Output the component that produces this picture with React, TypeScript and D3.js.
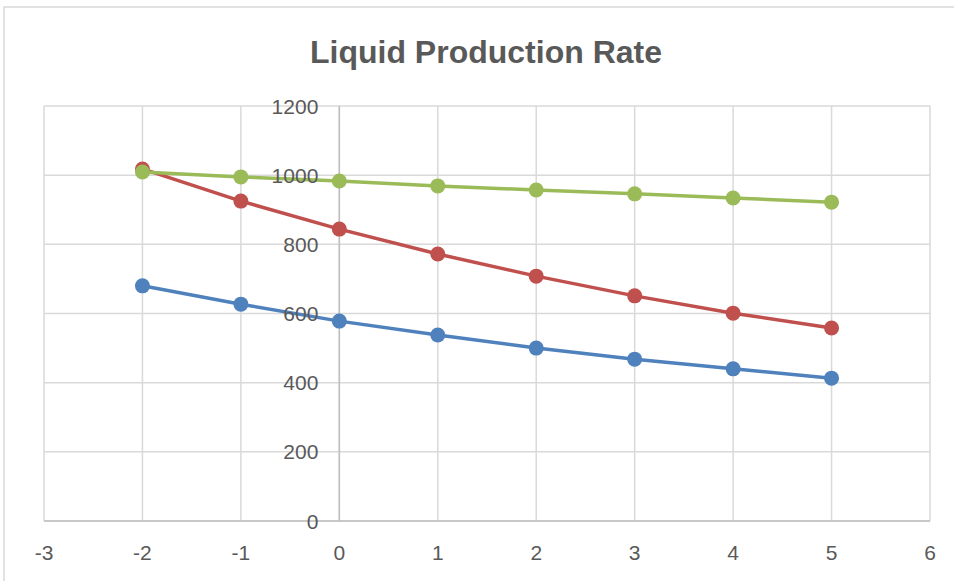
import React from "react";
import * as d3 from "d3";

// x values shared by all three series
const xValues = [-2, -1, 0, 1, 2, 3, 4, 5];
const blueSeries = [680, 627, 578, 538, 500, 468, 440, 413];
const redSeries = [1018, 925, 844, 772, 708, 651, 601, 558];
const greenSeries = [1009, 995, 983, 969, 957, 946, 934, 922];
const xTicks = [-3, -2, -1, 0, 1, 2, 3, 4, 5, 6];
const yTicks = [0, 200, 400, 600, 800, 1000, 1200];

const series = [
    { name: "blue", color: "#4F81BD", values: blueSeries },
    { name: "red", color: "#C0504D", values: redSeries },
    { name: "green", color: "#9BBB59", values: greenSeries },
];

var W = 954, H = 581;
var plot = { left: 44, right: 930, top: 106, bottom: 521 };
var font = "'Liberation Sans', Arial, sans-serif";

function App() {
    const x = d3.scaleLinear().domain([-3, 6]).range([plot.left, plot.right]);
    const y = d3.scaleLinear().domain([0, 1200]).range([plot.bottom, plot.top]);
    const line = d3.line<number>()
        .x((d, i) => x(xValues[i]))
        .y(d => y(d));

    return (
        <svg width={W} height={H} style={{ position: "absolute", left: 0, top: 0, background: "#fff" }}>
            {/* chart frame */}
            <rect x={4} y={7} width={980} height={600} fill="#fff" stroke="#d9d9d9" strokeWidth={1.5} />
            <text x={486} y={63} textAnchor="middle" fontFamily={font} fontWeight="bold"
                fontSize={32} fill="#595959">Liquid Production Rate</text>

            {/* gridlines */}
            {yTicks.map(t => (
                <line key={"gy" + t} x1={plot.left} x2={plot.right} y1={y(t)} y2={y(t)}
                    stroke="#d9d9d9" strokeWidth={1.5} />
            ))}
            {xTicks.map(t => (
                <line key={"gx" + t} x1={x(t)} x2={x(t)} y1={plot.top} y2={plot.bottom}
                    stroke="#d9d9d9" strokeWidth={1.5} />
            ))}
            {/* axes */}
            <line x1={plot.left} x2={plot.right} y1={y(0)} y2={y(0)} stroke="#bfbfbf" strokeWidth={1.5} />
            <line x1={x(0)} x2={x(0)} y1={plot.top} y2={plot.bottom} stroke="#bfbfbf" strokeWidth={1.5} />

            {/* series */}
            {series.map(s => (
                <g key={s.name}>
                    <path d={line(s.values) || ""} fill="none" stroke={s.color} strokeWidth={3.5} />
                    {s.values.map((v, i) => (
                        <circle key={i} cx={x(xValues[i])} cy={y(v)} r={7.5} fill={s.color} />
                    ))}
                </g>
            ))}

            {/* y tick labels sit next to the x=0 axis */}
            {yTicks.map(t => (
                <text key={"ly" + t} x={x(0) - 21} y={y(t)} dy="0.36em" textAnchor="end"
                    fontFamily={font} fontSize={21} fill="#595959">{t}</text>
            ))}
            {xTicks.map(t => (
                <text key={"lx" + t} x={x(t)} y={560} textAnchor="middle"
                    fontFamily={font} fontSize={21} fill="#595959">{t}</text>
            ))}
        </svg>
    );
}

export default App;
